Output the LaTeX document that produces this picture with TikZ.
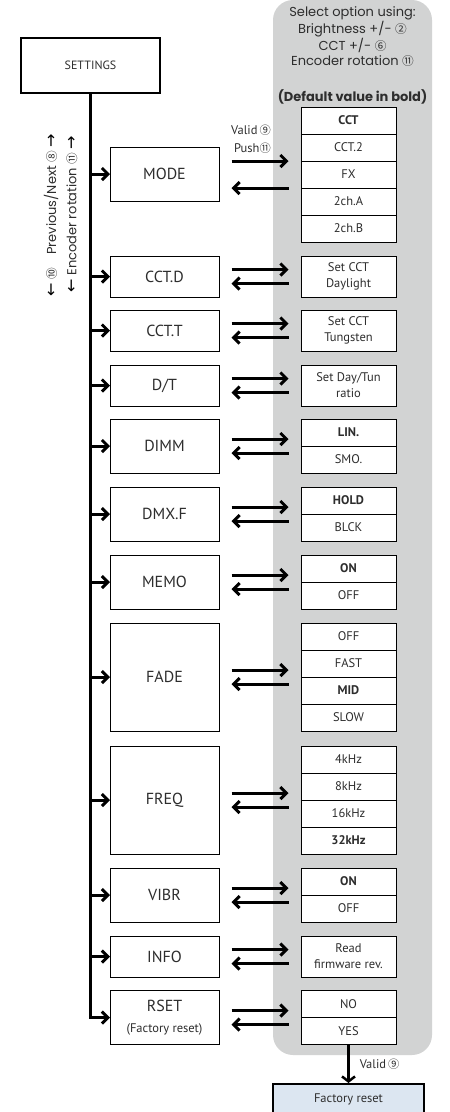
\documentclass[tikz,border=0pt]{standalone}
\usepackage{fontspec}
\setmainfont{PT Sans}
\newfontfamily\headfont{Poppins}
\newfontfamily\symfont{Noto Sans CJK SC}[Scale=0.9]
\newfontfamily\arrfont{DejaVu Sans}
\usetikzlibrary{arrows.meta,positioning}
\definecolor{panelgray}{RGB}{210,211,211}
\definecolor{resetblue}{RGB}{220,230,241}
\definecolor{inkgray}{RGB}{45,45,45}
\newcommand{\cnum}[1]{{\symfont #1}}
\newcommand{\karr}[1]{{\arrfont\fontsize{16}{16}\selectfont\color{black} #1}}
\tikzset{
	menubox/.style={draw, line width=1pt, fill=white, minimum width=109pt, inner sep=0pt, outer sep=0pt, text=inkgray, font=\fontsize{16}{18}\selectfont, align=center},
	optbox/.style={draw, line width=1pt, fill=white, minimum width=95pt, minimum height=27pt, inner sep=0pt, outer sep=0pt, text=inkgray, font=\fontsize{12.5}{16}\selectfont, align=center},
	optbold/.style={optbox, font=\fontsize{12.5}{16}\selectfont\bfseries},
	headtext/.style={text=inkgray, font=\headfont\fontsize{13}{15}\selectfont, inner sep=0pt},
	keytext/.style={text=inkgray, font=\fontsize{12.5}{14}\selectfont, inner sep=0pt},
	branch/.style={line width=3pt, -{Straight Barb[length=6pt,width=12pt]}},
	swap/.style={branch, shorten <=12.5pt, shorten >=12.5pt},
}
\begin{document}
\begin{tikzpicture}[x=1pt, y=-1pt]
	\useasboundingbox (0,0) rectangle (450,1112);
	\fill[panelgray, rounded corners=20pt] (273,0) rectangle (432,1055);%Auswahlfeld

	% Kopf rechts
	\node[headtext] (selhead) at (352.5,13) {Select option using:};
	\node[headtext] (brighthead) at (352.5,29) {Brightness +/- \cnum{②}};
	\node[headtext] (ccthead) at (352.5,45) {CCT +/- \cnum{⑥}};
	\node[headtext] (enchead) at (352.5,61) {Encoder rotation \cnum{⑪}};
	\node[headtext, font=\headfont\fontsize{13}{15}\selectfont\bfseries] (dflthead) at (352.5,97) {(Default value in bold)};

	% Hauptmenue
	\node[draw, line width=1.5pt, minimum width=139pt, minimum height=55pt, text=inkgray, font=\fontsize{12}{14}\selectfont] (settings) at (90.5,65.5) {SETTINGS};
	\node[menubox, minimum height=54pt] (mode) at (164.5,174) {MODE};
	\node[menubox, minimum height=41pt] (cctd) at (164.5,276.5) {CCT.D};
	\node[menubox, minimum height=41pt] (cctt) at (164.5,330.5) {CCT.T};
	\node[menubox, minimum height=41pt] (dt) at (164.5,385.5) {D/T};
	\node[menubox, minimum height=54pt] (dimm) at (164.5,446) {DIMM};
	\node[menubox, minimum height=54pt] (dmxf) at (164.5,514) {DMX.F};
	\node[menubox, minimum height=54pt] (memo) at (164.5,582) {MEMO};
	\node[menubox, minimum height=108pt] (fade) at (164.5,677) {FADE};
	\node[menubox, minimum height=108pt] (freq) at (164.5,800) {FREQ};
	\node[menubox, minimum height=54pt] (vibr) at (164.5,895) {VIBR};
	\node[menubox, minimum height=41pt] (info) at (164.5,956.5) {INFO};
	\node[menubox, minimum height=54pt] (rset) at (164.5,1017.5) {RSET\\[3pt]{\fontsize{12.5}{14}\selectfont (Factory reset)}};

	% Optionen
	\node[optbold] (cct) at (348.5,120.5) {CCT};
	\node[optbox, below=0pt of cct] (ccttwo) {CCT.2};
	\node[optbox, below=0pt of ccttwo] (fx) {FX};
	\node[optbox, below=0pt of fx] (chA) {2ch.A};
	\node[optbox, below=0pt of chA] (chB) {2ch.B};
	\node[optbox, minimum height=41pt] (setday) at (348.5,276.5) {Set CCT\\Daylight};
	\node[optbox, minimum height=41pt] (settun) at (348.5,330.5) {Set CCT\\Tungsten};
	\node[optbox, minimum height=41pt] (setratio) at (348.5,385.5) {Set Day/Tun\\ratio};
	\node[optbold] (lin) at (348.5,432.5) {LIN.};
	\node[optbox, below=0pt of lin] (smo) {SMO.};
	\node[optbold] (hold) at (348.5,500.5) {HOLD};
	\node[optbox, below=0pt of hold] (blck) {BLCK};
	\node[optbold] (memoon) at (348.5,568.5) {ON};
	\node[optbox, below=0pt of memoon] (memooff) {OFF};
	\node[optbox] (fadeoff) at (348.5,636.5) {OFF};
	\node[optbox, below=0pt of fadeoff] (fast) {FAST};
	\node[optbold, below=0pt of fast] (mid) {MID};
	\node[optbox, below=0pt of mid] (slow) {SLOW};
	\node[optbox] (fourk) at (348.5,759.5) {4kHz};
	\node[optbox, below=0pt of fourk] (eightk) {8kHz};
	\node[optbox, below=0pt of eightk] (sixteenk) {16kHz};
	\node[optbold, below=0pt of sixteenk] (thirtytwok) {32kHz};
	\node[optbold] (vibron) at (348.5,881.5) {ON};
	\node[optbox, below=0pt of vibron] (vibroff) {OFF};
	\node[optbox, minimum height=41pt] (readfw) at (348.5,956.5) {Read\\firmware rev.};
	\node[optbox] (rsno) at (348.5,1004) {NO};
	\node[optbox, below=0pt of rsno] (rsyes) {YES};
	\node[draw, line width=1.5pt, fill=resetblue, minimum width=151pt, minimum height=31pt, anchor=north, text=inkgray, font=\fontsize{12.5}{14}\selectfont] (freset) at (348.5,1083) {Factory reset};

	% Beschriftungen
	\node[keytext, anchor=east] (validlbl) at (271,130) {Valid\,\cnum{⑨}};
	\node[keytext, anchor=east] (pushlbl) at (271,148) {Push\cnum{⑪}};
	\node[headtext, rotate=90] (prevnext) at (51,215) {\karr{←} \cnum{⑩}\quad Previous/Next \cnum{⑧} \karr{→}};
	\node[headtext, rotate=90] (encrot) at (72,214) {\karr{←} Encoder rotation \cnum{⑪} \karr{→}};

	% Stamm und Abzweige
	\draw[branch] (settings.south) |- (rset.west);
	\draw[branch] (settings.south |- mode.west) -- (mode.west);
	\draw[branch] (settings.south |- cctd.west) -- (cctd.west);
	\draw[branch] (settings.south |- cctt.west) -- (cctt.west);
	\draw[branch] (settings.south |- dt.west) -- (dt.west);
	\draw[branch] (settings.south |- dimm.west) -- (dimm.west);
	\draw[branch] (settings.south |- dmxf.west) -- (dmxf.west);
	\draw[branch] (settings.south |- memo.west) -- (memo.west);
	\draw[branch] (settings.south |- fade.west) -- (fade.west);
	\draw[branch] (settings.south |- freq.west) -- (freq.west);
	\draw[branch] (settings.south |- vibr.west) -- (vibr.west);
	\draw[branch] (settings.south |- info.west) -- (info.west);

	% Hin und zurueck
	\draw[swap] ([yshift=13pt]mode.east) -- ([yshift=13pt]mode.east -| cct.west);
	\draw[swap] ([yshift=-14pt]mode.east -| cct.west) -- ([yshift=-14pt]mode.east);
	\draw[swap] ([yshift=7pt]cctd.east) -- ([yshift=7pt]cctd.east -| setday.west);
	\draw[swap] ([yshift=-7pt]cctd.east -| setday.west) -- ([yshift=-7pt]cctd.east);
	\draw[swap] ([yshift=7pt]cctt.east) -- ([yshift=7pt]cctt.east -| settun.west);
	\draw[swap] ([yshift=-7pt]cctt.east -| settun.west) -- ([yshift=-7pt]cctt.east);
	\draw[swap] ([yshift=7pt]dt.east) -- ([yshift=7pt]dt.east -| setratio.west);
	\draw[swap] ([yshift=-7pt]dt.east -| setratio.west) -- ([yshift=-7pt]dt.east);
	\draw[swap] ([yshift=7pt]dimm.east) -- ([yshift=7pt]dimm.east -| lin.west);
	\draw[swap] ([yshift=-7pt]dimm.east -| lin.west) -- ([yshift=-7pt]dimm.east);
	\draw[swap] ([yshift=7pt]dmxf.east) -- ([yshift=7pt]dmxf.east -| hold.west);
	\draw[swap] ([yshift=-7pt]dmxf.east -| hold.west) -- ([yshift=-7pt]dmxf.east);
	\draw[swap] ([yshift=7pt]memo.east) -- ([yshift=7pt]memo.east -| memoon.west);
	\draw[swap] ([yshift=-7pt]memo.east -| memoon.west) -- ([yshift=-7pt]memo.east);
	\draw[swap] ([yshift=7pt]fade.east) -- ([yshift=7pt]fade.east -| fast.west);
	\draw[swap] ([yshift=-7pt]fade.east -| fast.west) -- ([yshift=-7pt]fade.east);
	\draw[swap] ([yshift=7pt]freq.east) -- ([yshift=7pt]freq.east -| fourk.west);
	\draw[swap] ([yshift=-7pt]freq.east -| fourk.west) -- ([yshift=-7pt]freq.east);
	\draw[swap] ([yshift=7pt]vibr.east) -- ([yshift=7pt]vibr.east -| vibron.west);
	\draw[swap] ([yshift=-7pt]vibr.east -| vibron.west) -- ([yshift=-7pt]vibr.east);
	\draw[swap] ([yshift=7pt]info.east) -- ([yshift=7pt]info.east -| readfw.west);
	\draw[swap] ([yshift=-7pt]info.east -| readfw.west) -- ([yshift=-7pt]info.east);
	\draw[swap] ([yshift=7pt]rset.east) -- ([yshift=7pt]rset.east -| rsno.west);
	\draw[swap] ([yshift=-7pt]rset.east -| rsno.west) -- ([yshift=-7pt]rset.east);

	% Bestaetigung
	\draw[line width=2.5pt, -{Straight Barb[length=5pt,width=13pt]}] (rsyes.south) -- (freset.north) node[keytext, midway, right=10pt] (validreset) {Valid\,\cnum{⑨}};
\end{tikzpicture}
\end{document}
